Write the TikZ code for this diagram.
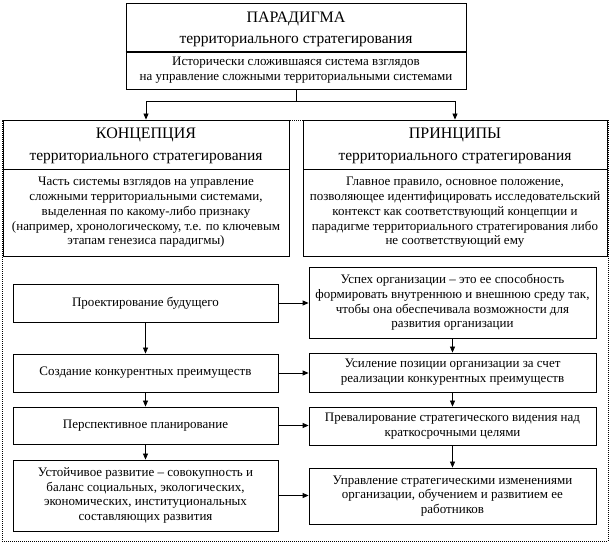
\documentclass[tikz,border=0pt]{standalone}
\usepackage{fontspec}
\setmainfont{Liberation Serif}
\usetikzlibrary{arrows.meta}
\newcommand\bodyfnt{\fontsize{13}{14.8}\selectfont}
\newcommand\titlefnt{\fontsize{16}{18}\selectfont}
\newcommand\subfnt{\fontsize{15.5}{17}\selectfont}
\begin{document}
\begin{tikzpicture}[x=1pt,y=-1pt,
  box/.style={draw, line width=0.8pt, fill=white, inner sep=0pt, align=center, font=\bodyfnt},
  lbl/.style={inner sep=0pt, align=center},
  ttl/.style={lbl, font=\titlefnt},
  sub/.style={lbl, font=\subfnt},
  arr/.style={line width=0.8pt, -{Triangle[length=6pt,width=5pt]}},
  con/.style={line width=0.8pt},
  frame/.style={draw, line width=0.8pt, dash pattern=on 1pt off 1pt, inner sep=0pt}]
\useasboundingbox (0,0) rectangle (611,545);

% dotted frame
\node[frame, minimum width=606pt, minimum height=421pt] (frm) at (305,330.5) {};

% paradigm
\node[box, minimum width=340pt, minimum height=49pt] (paratop) at (296,27.5) {};
\node[box, minimum width=340pt, minimum height=37pt] (parabody) at (296,70.5)
  {Исторически сложившаяся система взглядов\\на управление сложными территориальными системами};
\draw[line width=2pt] (paratop.south west) -- (paratop.south east);
\node[ttl] (paratitle) at (296,19) {ПАРАДИГМА};
\node[sub] (parasub) at (296,42) {территориального стратегирования};

% concept
\node[box, minimum width=286pt, minimum height=49pt] (conctop) at (146,144.5) {};
\node[box, minimum width=286pt, minimum height=87pt] (concbody) at (146,212.5)
  {Часть системы взглядов на управление\\сложными территориальными системами,\\выделенная по какому-либо признаку\\(например, хронологическому, т.е. по ключевым\\этапам генезиса парадигмы)};
\node[ttl] (conctitle) at (146,135) {КОНЦЕПЦИЯ};
\node[sub] (concsub) at (146,159) {территориального стратегирования};

% principles
\node[box, minimum width=304pt, minimum height=49pt] (printop) at (455,144.5) {};
\node[box, minimum width=304pt, minimum height=87pt] (prinbody) at (455,212.5)
  {Главное правило, основное положение,\\позволяющее идентифицировать исследовательский\\контекст как соответствующий концепции и\\парадигме территориального стратегирования либо\\не соответствующий ему};
\node[ttl] (printitle) at (455,135) {ПРИНЦИПЫ};
\node[sub] (prinsub) at (455,159) {территориального стратегирования};

% split connector
\coordinate (split) at (296,101);
\draw[con] (parabody.south) -- (split);
\draw[arr] (split) -| (conctop.north);
\draw[arr] (split) -| (printop.north);

% left column
\node[box, minimum width=265pt, minimum height=38pt] (L1) at (145.5,303) {Проектирование будущего};
\node[box, minimum width=265pt, minimum height=38pt] (L2) at (145.5,373) {Создание конкурентных преимуществ};
\node[box, minimum width=265pt, minimum height=37pt] (L3) at (145.5,425.5) {Перспективное планирование};
\node[box, minimum width=265pt, minimum height=71pt] (L4) at (145.5,495.5)
  {Устойчивое развитие – совокупность и\\баланс социальных, экологических,\\экономических, институциональных\\составляющих развития};

% right column
\node[box, minimum width=287pt, minimum height=71pt] (R1) at (452.5,302.5)
  {Успех организации – это ее способность\\формировать внутреннюю и внешнюю среду так,\\чтобы она обеспечивала возможности для\\развития организации};
\node[box, minimum width=287pt, minimum height=39pt] (R2) at (452.5,372.5)
  {Усиление позиции организации за счет\\реализации конкурентных преимуществ};
\node[box, minimum width=287pt, minimum height=38pt] (R3) at (452.5,426)
  {Превалирование стратегического видения над\\краткосрочными целями};
\node[box, minimum width=287pt, minimum height=56pt] (R4) at (452.5,496)
  {Управление стратегическими изменениями\\организации, обучением и развитием ее\\работников};

% vertical arrows
\draw[arr] (L1.south) -- (L2.north);
\draw[arr] (L2.south) -- (L3.north);
\draw[arr] (L3.south) -- (L4.north);
\draw[arr] (R1.south) -- (R2.north);
\draw[arr] (R2.south) -- (R3.north);
\draw[arr] (R3.south) -- (R4.north);

% horizontal arrows
\draw[arr] (L1.east) -- (L1.east -| R1.west);
\draw[arr] (L2.east) -- (L2.east -| R2.west);
\draw[arr] (L3.east) -- (L3.east -| R3.west);
\draw[arr] (L4.east) -- (L4.east -| R4.west);
\end{tikzpicture}
\end{document}
